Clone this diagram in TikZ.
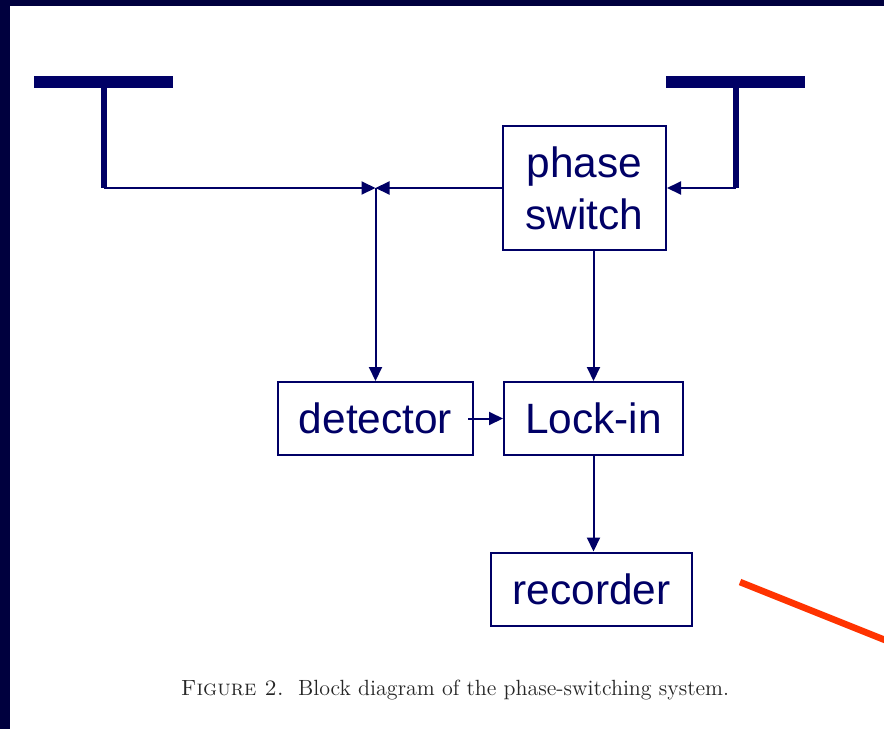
\documentclass[tikz,border=0pt]{standalone}
\usepackage{fontspec}
\newfontfamily\arial{Liberation Sans}
\usetikzlibrary{arrows.meta}
\definecolor{navy}{RGB}{0,0,102}
\definecolor{darknavy}{RGB}{0,0,62}
\definecolor{pointer}{RGB}{255,51,0}
\begin{document}
\begin{tikzpicture}[x=0.5pt, y=-0.5pt,
    block/.style={draw=navy, line width=1pt, inner sep=0pt, text=navy,
        font=\arial\fontsize{21.2}{26}\selectfont, align=center, minimum height=36.5pt},
    sig/.style={draw=navy, line width=1pt, -{Triangle[length=7pt,width=6.5pt]}},
    wire/.style={draw=navy, line width=1pt},
    mast/.style={draw=navy, line width=3pt},
    bar/.style={draw=navy, line width=6pt}]
    % Frame
    \useasboundingbox (0,0) rectangle (884,729);
    \fill[darknavy] (0,0) rectangle (884,729);
    \fill[white] (10,6) rectangle (884,729);

    % Blocks
    \node[block, minimum width=81.5pt, minimum height=62pt] (phase) at (584.5,188) {phase\\switch};
    \node[block, minimum width=97.5pt] (det) at (375.5,418.5) {detector};
    \node[block, minimum width=89.5pt] (lock) at (593.5,418.5) {Lock-in};
    \node[block, minimum width=100.5pt] (rec) at (591.5,589) {recorder};

    % Antennas
    \coordinate (antL) at (104,82);
    \coordinate (antLfoot) at (104,188);
    \coordinate (antR) at (735.5,82);
    \coordinate (antRfoot) at (735.5,188);
    \coordinate (junc) at (375.5,188);
    \draw[bar] (34,82) -- (173,82);
    \draw[bar] (666,82) -- (805,82);
    \draw[mast] (antL) -- (antLfoot);
    \draw[mast] (antR) -- (antRfoot);

    % Signal paths
    \draw[sig] (antLfoot) -- (junc);
    \draw[sig] (phase.west) -- (junc);
    \draw[sig] (antRfoot) -- (phase.east);
    \draw[sig] (junc) -- (det.north);
    \draw[sig] (lock.north |- phase.south) -- (lock.north);
    \draw[sig] ([xshift=-3pt]det.east) -- (lock.west);
    \draw[sig] (lock.south) -- (lock.south |- rec.north);

    % Pointer
    \draw[pointer, line width=3.3pt] (740,582) -- (890,642);

    % Caption
    \node[text=black!85, font=\fontsize{11}{13}\selectfont] (cap) at (455,690)
        {\textsc{Figure 2.}\ \ Block diagram of the phase-switching system.};
\end{tikzpicture}
\end{document}
